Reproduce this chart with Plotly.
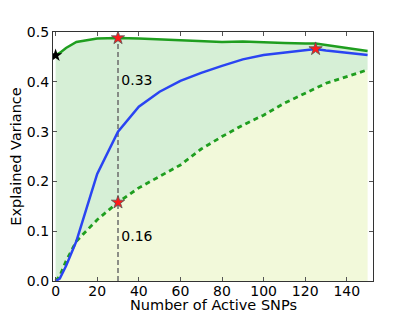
import plotly.graph_objects as go

snps = [0, 2, 5, 10, 20, 30, 40, 50, 60, 70, 80, 90, 100, 110, 120, 125, 130, 140, 150]
upper_bound = [0.453, 0.458, 0.468, 0.480, 0.487, 0.488, 0.487, 0.485, 0.483, 0.481, 0.480, 0.481, 0.479, 0.478, 0.477, 0.477, 0.474, 0.468, 0.462]
model = [0.0, 0.005, 0.03, 0.08, 0.215, 0.30, 0.35, 0.38, 0.402, 0.418, 0.432, 0.445, 0.454, 0.459, 0.464, 0.466, 0.463, 0.458, 0.454]
lower_bound = [0.0, 0.01, 0.04, 0.08, 0.123, 0.158, 0.187, 0.21, 0.233, 0.265, 0.29, 0.313, 0.333, 0.357, 0.378, 0.387, 0.397, 0.41, 0.424]

x_ticks = [0, 20, 40, 60, 80, 100, 120, 140]
y_ticks = [0.0, 0.1, 0.2, 0.3, 0.4, 0.5]
y_tick_labels = ["0.0", "0.1", "0.2", "0.3", "0.4", "0.5"]

marker_x = 30
red_stars_x = [30, 30, 125]
red_stars_y = [0.488, 0.158, 0.466]
black_star_x = [0]
black_star_y = [0.453]
annot_texts = ["0.33", "0.16"]
annot_y = [0.40, 0.088]

GREEN = "#1f9e1f"
BLUE = "#2a44f2"
FILL_GREEN = "#d6efd6"
FILL_YELLOW = "#f2f9da"
FONT = "DejaVu Sans"

fig = go.Figure()
fig.add_trace(go.Scatter(x=snps, y=lower_bound, mode="lines", line=dict(width=0),
                         fill="tozeroy", fillcolor=FILL_YELLOW, hoverinfo="skip", showlegend=False))
fig.add_trace(go.Scatter(x=snps, y=upper_bound, mode="lines", line=dict(width=0),
                         fill="tonexty", fillcolor=FILL_GREEN, hoverinfo="skip", showlegend=False))
fig.add_trace(go.Scatter(x=[marker_x, marker_x], y=[0, upper_bound[snps.index(marker_x)]], mode="lines",
                         line=dict(color="#6b6b6b", width=1.5, dash="5px,3px"), showlegend=False))
fig.add_trace(go.Scatter(x=snps, y=lower_bound, mode="lines",
                         line=dict(color=GREEN, width=2.8, dash="5px,4px"), showlegend=False))
fig.add_trace(go.Scatter(x=snps, y=model, mode="lines",
                         line=dict(color=BLUE, width=2.5), showlegend=False))
fig.add_trace(go.Scatter(x=snps, y=upper_bound, mode="lines",
                         line=dict(color=GREEN, width=2.5), showlegend=False))
fig.add_trace(go.Scatter(x=red_stars_x, y=red_stars_y, mode="markers",
                         marker=dict(symbol="star", size=10, color="#ff1a1a",
                                     line=dict(color="#555555", width=0.8)), showlegend=False))
fig.add_trace(go.Scatter(x=black_star_x, y=black_star_y, mode="markers",
                         marker=dict(symbol="star", size=10, color="black"), showlegend=False))
fig.add_trace(go.Scatter(x=[31.6, 31.6], y=annot_y, mode="text", text=annot_texts,
                         textposition="middle right",
                         textfont=dict(family=FONT, size=14, color="black"), showlegend=False))

axis_common = dict(showgrid=False, zeroline=False, showline=True, linecolor="#333333", linewidth=1.2,
                   mirror="ticks", ticks="inside", ticklen=4, tickcolor="#555555", automargin=False,
                   tickfont=dict(family=FONT, size=14, color="black"))
fig.update_xaxes(range=[-1.25, 152.6], tickvals=x_ticks, ticklabelstandoff=-3, **axis_common)
fig.update_yaxes(range=[0, 0.5], tickvals=y_ticks, ticktext=y_tick_labels,
                 title=dict(text="Explained Variance", font=dict(family=FONT, size=14.5, color="black"),
                            standoff=4), **axis_common)
fig.add_annotation(text="Number of Active SNPs", xref="paper", yref="paper", x=0.5, y=0,
                   xanchor="center", yanchor="middle", yshift=-24, showarrow=False,
                   font=dict(family=FONT, size=14.5, color="black"))
# page body has an 8px default margin, so the figure is shifted by 8px
fig.update_layout(width=407, height=304, margin=dict(l=45, r=42, t=24, b=31),
                  plot_bgcolor="white", paper_bgcolor="white")
fig.write_html("out.html")
